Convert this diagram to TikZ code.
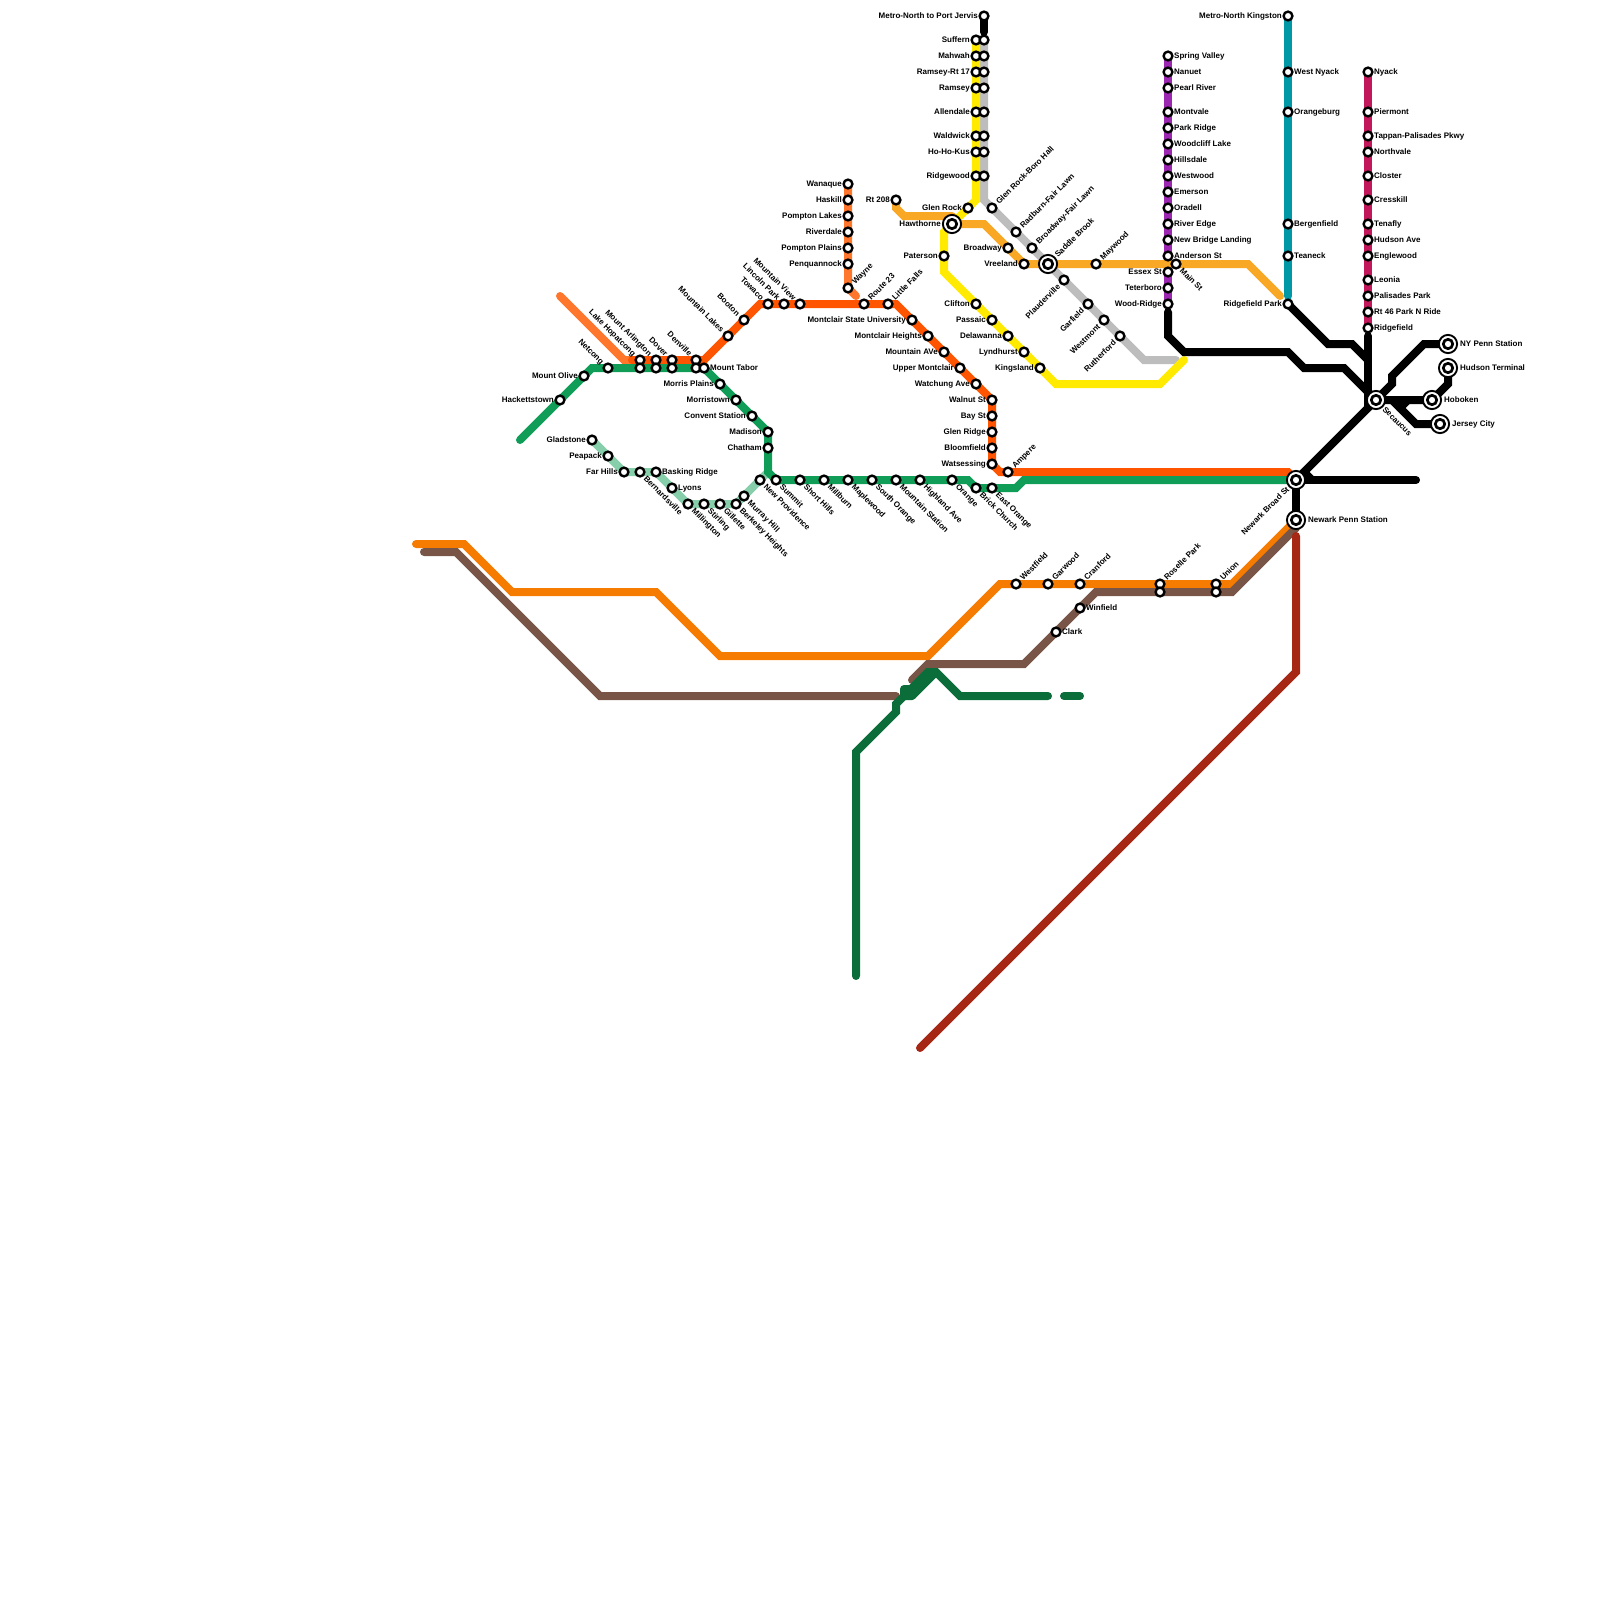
\documentclass[tikz,border=0pt]{standalone}
\usepackage{fontspec}
\setmainfont{Liberation Sans}
\pgfdeclarelayer{lines}
\pgfsetlayers{lines,main}
\definecolor{cgreen}{HTML}{0F9D58}
\definecolor{clgreen}{HTML}{87CFAB}
\definecolor{cred}{HTML}{FF5500}
\definecolor{clor}{HTML}{FF772D}
\definecolor{cyel}{HTML}{FFEA00}
\definecolor{cgray}{HTML}{BDBDBD}
\definecolor{camb}{HTML}{F9A825}
\definecolor{cpur}{HTML}{9C27B0}
\definecolor{cteal}{HTML}{0097A7}
\definecolor{cmag}{HTML}{C2185B}
\definecolor{cor}{HTML}{F57C00}
\definecolor{cbro}{HTML}{795548}
\definecolor{cdg}{HTML}{0B6E3A}
\definecolor{crb}{HTML}{A52714}
\tikzset{
  metro/.style={line width=8pt,line cap=round,line join=miter,miter limit=4},
  station/.style={circle,draw=black,fill=white,line width=2.4pt,inner sep=0pt,minimum size=8.8pt},
  hubo/.style={circle,draw=black,fill=white,line width=1.9pt,inner sep=0pt,minimum size=18.2pt},
  hubi/.style={circle,draw=black,fill=white,line width=2.7pt,inner sep=0pt,minimum size=9.4pt},
  lab/.style={font=\fontsize{8}{8}\selectfont\bfseries,inner sep=0pt,text height=5.7pt,text depth=0pt,text=black},
  tr/.style={lab,shift={(6pt,0pt)},anchor=west},
  tl/.style={lab,shift={(-6pt,0pt)},anchor=east},
  ne/.style={lab,shift={(5.2pt,5.2pt)},rotate=45,anchor=west},
  se/.style={lab,shift={(5.2pt,-5.2pt)},rotate=-45,anchor=west},
  nw/.style={lab,shift={(-5.2pt,5.2pt)},rotate=-45,anchor=east},
  sw/.style={lab,shift={(-5.2pt,-5.2pt)},rotate=45,anchor=east},
  htr/.style={lab,shift={(12pt,0pt)},anchor=west},
  htl/.style={lab,shift={(-11pt,0pt)},anchor=east},
  hne/.style={lab,shift={(8pt,8pt)},rotate=45,anchor=west},
  hse/.style={lab,shift={(8pt,-8pt)},rotate=-45,anchor=west},
  hsw/.style={lab,shift={(-8pt,-8pt)},rotate=45,anchor=east},
}
\newcommand{\stn}[5]{\node[station] (#1) at (#2,#3) {};\node[#4] (#1t) at (#2,#3) {#5};}
\newcommand{\stb}[3]{\node[station] (#1) at (#2,#3) {};}
\newcommand{\hub}[5]{\node[hubo] (#1) at (#2,#3) {};\node[hubi] (#1i) at (#2,#3) {};\node[#4] (#1t) at (#2,#3) {#5};}
\begin{document}
\begin{tikzpicture}[x=1pt,y=-1pt]
\useasboundingbox (0,0) rectangle (1600,1600);
% stations: green line
\stn{hackettstown}{560}{400}{tl}{Hackettstown}
\stn{mountolive}{584}{376}{tl}{Mount Olive}
\stn{netcong}{608}{368}{nw}{Netcong}
\stn{lakehop}{640}{360}{nw}{Lake Hopatcong}
\stn{mtarl}{656}{360}{nw}{Mount Arlington}
\stn{dover}{672}{360}{nw}{Dover}
\stn{denville}{696}{360}{nw}{Denville}
\stb{lakehopg}{640}{368}
\stb{mtarlg}{656}{368}
\stb{doverg}{672}{368}
\stb{denvilleg}{696}{368}
\stn{mounttabor}{704}{368}{tr}{Mount Tabor}
\stn{morrisplains}{720}{384}{tl}{Morris Plains}
\stn{morristown}{736}{400}{tl}{Morristown}
\stn{convent}{752}{416}{tl}{Convent Station}
\stn{madison}{768}{432}{tl}{Madison}
\stn{chatham}{768}{448}{tl}{Chatham}
\stn{summit}{776}{480}{se}{Summit}
\stn{shorthills}{800}{480}{se}{Short Hills}
\stn{millburn}{824}{480}{se}{Millburn}
\stn{maplewood}{848}{480}{se}{Maplewood}
\stn{southorange}{872}{480}{se}{South Orange}
\stn{mountainst}{896}{480}{se}{Mountain Station}
\stn{highland}{920}{480}{se}{Highland Ave}
\stn{orange}{952}{480}{se}{Orange}
\stn{brick}{976}{488}{se}{Brick Church}
\stn{eastorange}{992}{488}{se}{East Orange}
% Gladstone branch
\stn{gladstone}{592}{440}{tl}{Gladstone}
\stn{peapack}{608}{456}{tl}{Peapack}
\stn{farhills}{624}{472}{tl}{Far Hills}
\stn{bernards}{640}{472}{se}{Bernardsville}
\stn{basking}{656}{472}{tr}{Basking Ridge}
\stn{lyons}{672}{488}{tr}{Lyons}
\stn{millington}{688}{504}{se}{Millington}
\stn{stirling}{704}{504}{se}{Stirling}
\stn{gillette}{720}{504}{se}{Gillette}
\stn{berkeley}{736}{504}{se}{Berkeley Heights}
\stn{murray}{744}{496}{se}{Murray Hill}
\stn{newprov}{760}{480}{se}{New Providence}
% Montclair-Boonton
\stn{mtnlakes}{728}{336}{nw}{Mountain Lakes}
\stn{booton}{744}{320}{nw}{Booton}
\stn{towaco}{768}{304}{nw}{Towaco}
\stn{lincoln}{784}{304}{nw}{Lincoln Park}
\stn{mtnview}{800}{304}{nw}{Mountain View}
\stn{route23}{864}{304}{ne}{Route 23}
\stn{littlefalls}{888}{304}{ne}{Little Falls}
\stn{msu}{912}{320}{tl}{Montclair State University}
\stn{mheights}{928}{336}{tl}{Montclair Heights}
\stn{mtnave}{944}{352}{tl}{Mountain AVe}
\stn{uppermont}{960}{368}{tl}{Upper Montclair}
\stn{watchung}{976}{384}{tl}{Watchung Ave}
\stn{walnut}{992}{400}{tl}{Walnut St}
\stn{bay}{992}{416}{tl}{Bay St}
\stn{glenridge}{992}{432}{tl}{Glen Ridge}
\stn{bloomfield}{992}{448}{tl}{Bloomfield}
\stn{watsessing}{992}{464}{tl}{Watsessing}
\stn{ampere}{1008}{472}{ne}{Ampere}
% Wanaque
\stn{wanaque}{848}{184}{tl}{Wanaque}
\stn{haskill}{848}{200}{tl}{Haskill}
\stn{pompton}{848}{216}{tl}{Pompton Lakes}
\stn{riverdale}{848}{232}{tl}{Riverdale}
\stn{pplains}{848}{248}{tl}{Pompton Plains}
\stn{penq}{848}{264}{tl}{Penquannock}
\stn{wayne}{848}{288}{ne}{Wayne}
% Main / Bergen
\stn{portjervis}{984}{16}{tl}{Metro-North to Port Jervis}
\stn{suffern}{976}{40}{tl}{Suffern}
\stn{mahwah}{976}{56}{tl}{Mahwah}
\stn{ramseyrt}{976}{72}{tl}{Ramsey-Rt 17}
\stn{ramsey}{976}{88}{tl}{Ramsey}
\stn{allendale}{976}{112}{tl}{Allendale}
\stn{waldwick}{976}{136}{tl}{Waldwick}
\stn{hohokus}{976}{152}{tl}{Ho-Ho-Kus}
\stn{ridgewood}{976}{176}{tl}{Ridgewood}
\stb{sufferng}{984}{40}
\stb{mahwahg}{984}{56}
\stb{ramseyrtg}{984}{72}
\stb{ramseyg}{984}{88}
\stb{allendaleg}{984}{112}
\stb{waldwickg}{984}{136}
\stb{hohokusg}{984}{152}
\stb{ridgewoodg}{984}{176}
\stn{glenrock}{968}{208}{tl}{Glen Rock}
\hub{hawthorne}{952}{224}{htl}{Hawthorne}
\stn{paterson}{944}{256}{tl}{Paterson}
\stn{clifton}{976}{304}{tl}{Clifton}
\stn{passaic}{992}{320}{tl}{Passaic}
\stn{delawanna}{1008}{336}{tl}{Delawanna}
\stn{lyndhurst}{1024}{352}{tl}{Lyndhurst}
\stn{kingsland}{1040}{368}{tl}{Kingsland}
\stn{glenboro}{992}{208}{ne}{Glen Rock-Boro Hall}
\stn{radburn}{1016}{232}{ne}{Radburn-Fair Lawn}
\stn{broadfl}{1032}{248}{ne}{Broadway-Fair Lawn}
\hub{saddle}{1048}{264}{hne}{Saddle Brook}
\stn{plauder}{1064}{280}{sw}{Plauderville}
\stn{garfield}{1088}{304}{sw}{Garfield}
\stn{westmont}{1104}{320}{sw}{Westmont}
\stn{rutherford}{1120}{336}{sw}{Rutherford}
\stn{rt208}{896}{200}{tl}{Rt 208}
\stn{broadway}{1008}{248}{tl}{Broadway}
\stn{vreeland}{1024}{264}{tl}{Vreeland}
\stn{maywood}{1096}{264}{ne}{Maywood}
\stn{mainst}{1176}{264}{se}{Main St}
% Pascack
\stn{springv}{1168}{56}{tr}{Spring Valley}
\stn{nanuet}{1168}{72}{tr}{Nanuet}
\stn{pearl}{1168}{88}{tr}{Pearl River}
\stn{montvale}{1168}{112}{tr}{Montvale}
\stn{parkridge}{1168}{128}{tr}{Park Ridge}
\stn{woodcliff}{1168}{144}{tr}{Woodcliff Lake}
\stn{hillsdale}{1168}{160}{tr}{Hillsdale}
\stn{westwood}{1168}{176}{tr}{Westwood}
\stn{emerson}{1168}{192}{tr}{Emerson}
\stn{oradell}{1168}{208}{tr}{Oradell}
\stn{riveredge}{1168}{224}{tr}{River Edge}
\stn{newbridge}{1168}{240}{tr}{New Bridge Landing}
\stn{anderson}{1168}{256}{tr}{Anderson St}
\stn{essex}{1168}{272}{tl}{Essex St}
\stn{teterboro}{1168}{288}{tl}{Teterboro}
\stn{woodridge}{1168}{304}{tl}{Wood-Ridge}
% Teal
\stn{kingston}{1288}{16}{tl}{Metro-North Kingston}
\stn{westnyack}{1288}{72}{tr}{West Nyack}
\stn{orangeburg}{1288}{112}{tr}{Orangeburg}
\stn{bergenfield}{1288}{224}{tr}{Bergenfield}
\stn{teaneck}{1288}{256}{tr}{Teaneck}
\stn{ridgepark}{1288}{304}{tl}{Ridgefield Park}
% Magenta
\stn{nyack}{1368}{72}{tr}{Nyack}
\stn{piermont}{1368}{112}{tr}{Piermont}
\stn{tappan}{1368}{136}{tr}{Tappan-Palisades Pkwy}
\stn{northvale}{1368}{152}{tr}{Northvale}
\stn{closter}{1368}{176}{tr}{Closter}
\stn{cresskill}{1368}{200}{tr}{Cresskill}
\stn{tenafly}{1368}{224}{tr}{Tenafly}
\stn{hudsonave}{1368}{240}{tr}{Hudson Ave}
\stn{englewood}{1368}{256}{tr}{Englewood}
\stn{leonia}{1368}{280}{tr}{Leonia}
\stn{palisades}{1368}{296}{tr}{Palisades Park}
\stn{rt46}{1368}{312}{tr}{Rt 46 Park N Ride}
\stn{ridgefield}{1368}{328}{tr}{Ridgefield}
% Hubs
\hub{secaucus}{1376}{400}{hse}{Secaucus}
\hub{nypenn}{1448}{344}{htr}{NY Penn Station}
\hub{hudsonterm}{1448}{368}{htr}{Hudson Terminal}
\hub{hoboken}{1432}{400}{htr}{Hoboken}
\hub{jerseycity}{1440}{424}{htr}{Jersey City}
\hub{broadst}{1296}{480}{hsw}{Newark Broad St}
\hub{newarkpenn}{1296}{520}{htr}{Newark Penn Station}
% Raritan
\stn{westfield}{1016}{584}{ne}{Westfield}
\stn{garwood}{1048}{584}{ne}{Garwood}
\stn{cranford}{1080}{584}{ne}{Cranford}
\stn{roselle}{1160}{584}{ne}{Roselle Park}
\stb{roselleb}{1160}{592}
\stn{union}{1216}{584}{ne}{Union}
\stb{unionb}{1216}{592}
\stn{winfield}{1080}{608}{tr}{Winfield}
\stn{clark}{1056}{632}{tr}{Clark}
% corner coordinates
\coordinate (g0) at (520,440);\coordinate (g1) at (592,368);\coordinate (g2) at (768,472);
\coordinate (g3) at (968,480);\coordinate (g4) at (976,488);\coordinate (g5) at (1016,488);\coordinate (g6) at (1024,480);
\coordinate (lg1) at (768,472);
\coordinate (r0) at (632,360);\coordinate (r1) at (704,360);\coordinate (r2) at (760,304);\coordinate (r3) at (896,304);
\coordinate (r4) at (1000,472);\coordinate (r5) at (1288,472);
\coordinate (lo0) at (560,296);\coordinate (lo1) at (624,360);\coordinate (lo2) at (640,360);
\coordinate (y1) at (976,200);\coordinate (y2) at (944,232);\coordinate (y3) at (944,272);\coordinate (y4) at (1056,384);\coordinate (y5) at (1160,384);\coordinate (y6) at (1184,360);
\coordinate (gr1) at (984,200);\coordinate (gr2) at (1144,360);\coordinate (gr3) at (1176,360);
\coordinate (a1) at (896,208);\coordinate (a2) at (904,216);\coordinate (a3) at (952,216);
\coordinate (a4) at (984,224);\coordinate (a5) at (1248,264);\coordinate (a6) at (1280,296);
\coordinate (w1) at (856,296);
\coordinate (t1) at (1288,296);
\coordinate (b0) at (1168,312);\coordinate (b1) at (1168,336);\coordinate (b2) at (1184,352);\coordinate (b3) at (1288,352);\coordinate (b4) at (1304,368);\coordinate (b5) at (1344,368);
\coordinate (c1) at (1328,344);\coordinate (c2) at (1352,344);\coordinate (c3) at (1368,360);
\coordinate (d0) at (1368,336);\coordinate (d1) at (1368,408);
\coordinate (e1) at (1392,384);\coordinate (e2) at (1392,376);\coordinate (e3) at (1424,344);
\coordinate (h1) at (1448,384);
\coordinate (j0) at (1392,400);\coordinate (j1) at (1416,424);
\coordinate (j2) at (1400,408);\coordinate (j3) at (1408,400);
\coordinate (n1) at (1416,480);\coordinate (n2) at (1304,472);\coordinate (n3) at (1312,480);
\coordinate (pj) at (984,32);
\coordinate (o0) at (416,544);\coordinate (o1) at (464,544);\coordinate (o2) at (512,592);\coordinate (o3) at (656,592);\coordinate (o4) at (720,656);\coordinate (o5) at (928,656);\coordinate (o6) at (1000,584);\coordinate (o7) at (1232,584);
\coordinate (br0) at (424,552);\coordinate (br1) at (456,552);\coordinate (br2) at (600,696);\coordinate (br3) at (896,696);
\coordinate (br4) at (912,680);\coordinate (br5) at (928,664);\coordinate (br6) at (1024,664);\coordinate (br7) at (1096,592);\coordinate (br8) at (1232,592);\coordinate (br9) at (1296,528);
\coordinate (dg0) at (856,976);\coordinate (dg1) at (856,752);\coordinate (dg2) at (896,712);\coordinate (dg3) at (896,704);\coordinate (dg4) at (904,696);\coordinate (dg5) at (928,672);\coordinate (dg6) at (936,672);\coordinate (dg7) at (960,696);\coordinate (dg8) at (1048,696);
\coordinate (dg9) at (1064,696);\coordinate (dg10) at (1080,696);
\coordinate (dg11) at (904,689);\coordinate (dg12) at (910,689);\coordinate (dg13) at (912,696);
\coordinate (rb0) at (1296,536);\coordinate (rb1) at (1296,672);\coordinate (rb2) at (920,1048);
\begin{pgfonlayer}{lines}
\draw[metro,draw=cgray] (sufferng.center)--(gr1)--(gr2)--(gr3);
\draw[metro,draw=cyel] (suffern.center)--(y1)--(hawthorne.center)--(y2)--(y3)--(y4)--(y5)--(y6);
\draw[metro,draw=cpur] (springv.center)--(woodridge.center);
\draw[metro,draw=cteal] (kingston.center)--(t1);
\draw[metro,draw=cmag] (nyack.center)--(ridgefield.center);
\draw[metro,draw=camb] (rt208.center)--(a1)--(a2)--(a3);
\draw[metro,draw=camb] (hawthorne.center)--(a4|-hawthorne.center)--(a4)--(vreeland.center)--(a5)--(a6);
\draw[metro,draw=clgreen] (gladstone.center)--(farhills.center)--(basking.center)--(millington.center)--(berkeley.center)--(lg1);
\draw[metro,draw=clor] (lo0)--(lo1)--(lo2);
\draw[metro,draw=clor] (wanaque.center)--(wayne.center)--(w1);
\draw[metro,draw=cred] (r0)--(r1)--(r2)--(r3)--(walnut.center)--(watsessing.center)--(r4)--(r5)--(broadst.center);
\draw[metro,draw=cgreen] (g0)--(g1)--(mounttabor.center)--(madison.center)--(g2)--(summit.center)--(g3)--(g4)--(g5)--(g6)--(broadst.center);
\draw[metro,draw=cor] (o0)--(o1)--(o2)--(o3)--(o4)--(o5)--(o6)--(o7)--(newarkpenn.center);
\draw[metro,draw=cbro] (br0)--(br1)--(br2)--(br3);
\draw[metro,draw=cbro] (br4)--(br5)--(br6)--(br7)--(br8)--(br9);
\draw[metro,draw=cdg] (dg0)--(dg1)--(dg2)--(dg3)--(dg4)--(dg5)--(dg6)--(dg7)--(dg8);
\draw[metro,draw=cdg] (dg9)--(dg10);
\draw[metro,draw=cdg,line join=round] (dg4)--(dg11)--(dg12)--(dg13)--(dg4);
\draw[metro,draw=cdg,line join=round] (dg13)--(dg6);
\draw[metro,draw=crb] (rb0)--(rb1)--(rb2);
\draw[metro,draw=black] (portjervis.center)--(pj);
\draw[metro,draw=black] (b0)--(b1)--(b2)--(b3)--(b4)--(b5)--(secaucus.center);
\draw[metro,draw=black] (ridgepark.center)--(c1)--(c2)--(c3);
\draw[metro,draw=black] (d0)--(d1);
\draw[metro,draw=black] (broadst.center)--(secaucus.center)--(e1)--(e2)--(e3)--(nypenn.center);
\draw[metro,draw=black] (secaucus.center)--(hoboken.center)--(h1)--(hudsonterm.center);
\draw[metro,draw=black] (j0)--(j1)--(jerseycity.center);
\draw[metro,draw=black] (j2)--(j3);
\draw[metro,draw=black] (broadst.center)--(n1);
\draw[metro,draw=black] (n2)--(n3);
\draw[metro,draw=black] (broadst.center)--(newarkpenn.center);
\end{pgfonlayer}
\end{tikzpicture}
\end{document}
